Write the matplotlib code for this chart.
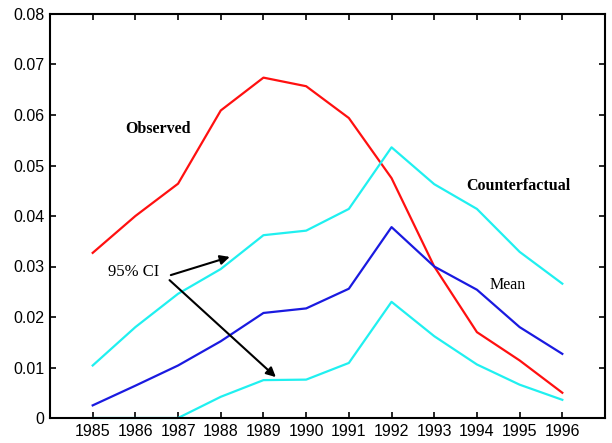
import matplotlib
matplotlib.use("Agg")
import matplotlib.pyplot as plt

years = list(range(1985, 1997))
observed = [0.0327, 0.0400, 0.0464, 0.0609, 0.0674, 0.0657, 0.0594, 0.0475,
            0.0300, 0.0170, 0.0114, 0.0050]
ci_upper = [0.0104, 0.0180, 0.0246, 0.0295, 0.0362, 0.0371, 0.0414, 0.0536,
            0.0463, 0.0414, 0.0329, 0.0266]
mean_cf = [0.0025, 0.0064, 0.0104, 0.0152, 0.0208, 0.0217, 0.0256, 0.0378,
           0.0300, 0.0254, 0.0180, 0.0127]
ci_lower = [0.0, 0.0, 0.0, 0.0042, 0.0075, 0.0076, 0.0109, 0.0230,
            0.0162, 0.0106, 0.0066, 0.0036]
yticks = [0, 0.01, 0.02, 0.03, 0.04, 0.05, 0.06, 0.07, 0.08]
ytick_labels = ["0", "0.01", "0.02", "0.03", "0.04", "0.05", "0.06", "0.07", "0.08"]

fig = plt.figure(figsize=(6.12, 4.43), dpi=100)
ax = fig.add_axes([50 / 612, 25 / 443, 555 / 612, 404 / 443])

ax.plot(years, observed, color="#ff1010", lw=1.6)
ax.plot(years, ci_upper, color="#20f0f0", lw=1.6)
ax.plot(years, mean_cf, color="#1a1ae0", lw=1.6)
ax.plot(years, ci_lower, color="#20f0f0", lw=1.6, clip_on=False)

ax.set_xlim(1984, 1997)
ax.set_ylim(0, 0.08)
ax.set_xticks(years)
ax.set_xticklabels([str(y) for y in years], family="Liberation Sans", fontsize=11.5)
ax.set_yticks(yticks)
ax.set_yticklabels(ytick_labels, family="Liberation Sans", fontsize=11.5)
ax.tick_params(direction="in", length=4, width=1.2, top=True, right=True, pad=4)
for s in ax.spines.values():
    s.set_linewidth(1.5)

serif = "Liberation Serif"
ax.text(1985.77, 0.0572, "Observed", family=serif, weight="bold", fontsize=11.5,
        va="center", ha="left")
ax.text(1993.74, 0.0459, "Counterfactual", family=serif, weight="bold", fontsize=11.5,
        va="center", ha="left")
ax.text(1994.3, 0.0263, "Mean", family=serif, fontsize=11.5, va="center", ha="left")
ax.text(1985.37, 0.0289, "95% CI", family=serif, fontsize=12, va="center", ha="left")

arrow = dict(arrowstyle="-|>", color="black", lw=1.5, mutation_scale=14,
             shrinkA=0, shrinkB=0)
ax.annotate("", xy=(1988.21, 0.0319), xytext=(1986.83, 0.0283), arrowprops=arrow)
ax.annotate("", xy=(1989.29, 0.0081), xytext=(1986.80, 0.0273), arrowprops=arrow)

fig.savefig("out.png", dpi=100)
